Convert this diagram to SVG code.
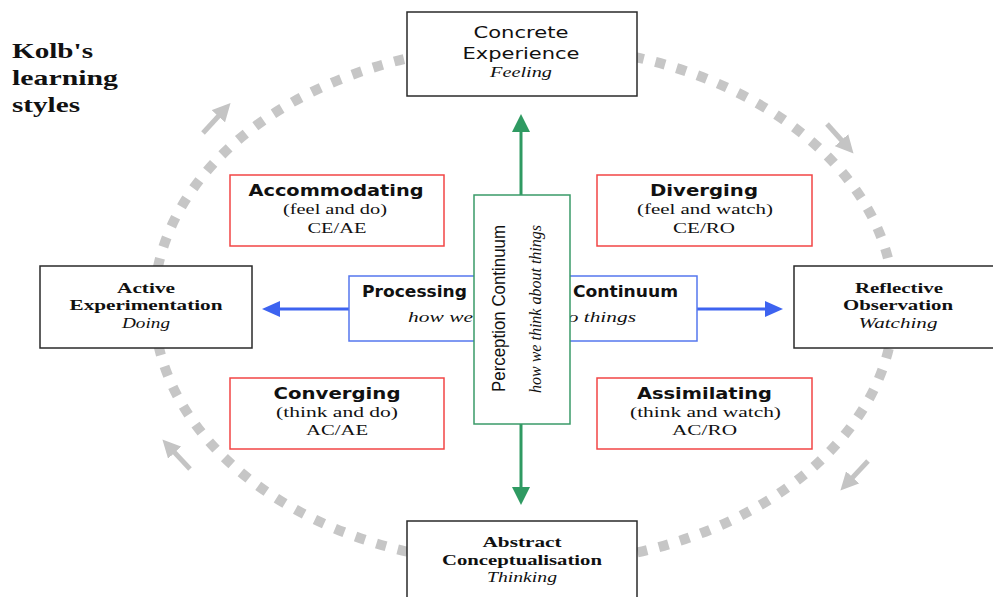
<svg xmlns="http://www.w3.org/2000/svg" width="993" height="597" viewBox="0 0 993 597">
<defs>
<marker id="gh" markerUnits="userSpaceOnUse" markerWidth="18" markerHeight="18" refX="10" refY="8" orient="auto" viewBox="0 0 16 16">
<path d="M0,0 L16,8 L0,16 z" fill="#c4c4c4"/>
</marker>
</defs>
<style>
.blk{fill:#fff;stroke:#2a2a2a;stroke-width:1.5}
.red{fill:#fff;stroke:#f24545;stroke-width:1.5}
.blu{fill:#fff;stroke:#5577ee;stroke-width:1.5}
.grn{fill:#fff;stroke:#3a9a68;stroke-width:1.5}
text{fill:#111}
.sans{font-family:"DejaVu Sans","Verdana",sans-serif;font-size:15px}
.sb{font-family:"DejaVu Sans","Verdana",sans-serif;font-size:16px;font-weight:bold}
.ser{font-family:"Liberation Serif","Times New Roman",serif;font-size:15px}
.sbold{font-family:"Liberation Serif","Times New Roman",serif;font-size:14px;font-weight:bold}
.ital{font-family:"Liberation Serif","Times New Roman",serif;font-size:15px;font-style:italic}
.c{text-anchor:middle}
.gl{fill:none;stroke:#c4c4c4;stroke-width:5}
</style>
<rect width="993" height="597" fill="#fff"/>

<g id="title">
<text x="12" y="58" font-family="Liberation Serif" font-size="22" font-weight="bold" textLength="81" lengthAdjust="spacingAndGlyphs">Kolb's</text>
<text x="12" y="85" font-family="Liberation Serif" font-size="22" font-weight="bold" textLength="106" lengthAdjust="spacingAndGlyphs">learning</text>
<text x="12" y="112" font-family="Liberation Serif" font-size="22" font-weight="bold" textLength="68" lengthAdjust="spacingAndGlyphs">styles</text>
</g>

<g id="connectors">
<ellipse cx="524" cy="305" rx="370" ry="260" fill="none" stroke="#c6c6c6" stroke-width="10" stroke-dasharray="10 12"/>
<line class="gl" x1="203" y1="133" x2="226" y2="108" marker-end="url(#gh)"/>
<line class="gl" x1="827" y1="124" x2="849" y2="148.5" marker-end="url(#gh)"/>
<line class="gl" x1="868" y1="461" x2="845" y2="485.6" marker-end="url(#gh)"/>
<line class="gl" x1="190" y1="469" x2="167" y2="444.4" marker-end="url(#gh)"/>
<line x1="521" y1="196" x2="521" y2="130" stroke="#2f9a62" stroke-width="3"/>
<polygon points="512,132 530,132 521,114" fill="#2f9a62"/>
<line x1="521" y1="423" x2="521" y2="489" stroke="#2f9a62" stroke-width="3"/>
<polygon points="512,487 530,487 521,505" fill="#2f9a62"/>
<line x1="350" y1="309" x2="278" y2="309" stroke="#3d63f0" stroke-width="3"/>
<polygon points="280,301 280,317 262,309" fill="#3d63f0"/>
<line x1="696" y1="309" x2="767" y2="309" stroke="#3d63f0" stroke-width="3"/>
<polygon points="765,301 765,317 783,309" fill="#3d63f0"/>
</g>

<g id="concrete-experience">
<rect class="blk" x="407" y="12" width="230" height="84"/>
<text class="sans c" x="521" y="38" textLength="95" lengthAdjust="spacingAndGlyphs">Concrete</text>
<text class="sans c" x="521" y="59" textLength="117" lengthAdjust="spacingAndGlyphs">Experience</text>
<text class="ital c" x="521" y="77" textLength="62" lengthAdjust="spacingAndGlyphs">Feeling</text>
</g>

<g id="active-experimentation">
<rect class="blk" x="40" y="266" width="212" height="82"/>
<text class="sbold c" x="146" y="293" textLength="58" lengthAdjust="spacingAndGlyphs">Active</text>
<text class="sbold c" x="146" y="310" textLength="153" lengthAdjust="spacingAndGlyphs">Experimentation</text>
<text class="ital c" x="146" y="328" textLength="48" lengthAdjust="spacingAndGlyphs">Doing</text>
</g>

<g id="reflective-observation">
<rect class="blk" x="794" y="266" width="212" height="82"/>
<text class="sbold c" x="899" y="293" textLength="88" lengthAdjust="spacingAndGlyphs">Reflective</text>
<text class="sbold c" x="898" y="310" textLength="110" lengthAdjust="spacingAndGlyphs">Observation</text>
<text class="ital c" x="898" y="328" textLength="79" lengthAdjust="spacingAndGlyphs">Watching</text>
</g>

<g id="abstract-conceptualisation">
<rect class="blk" x="407" y="521" width="230" height="84"/>
<text class="sbold c" x="522" y="547" textLength="79" lengthAdjust="spacingAndGlyphs">Abstract</text>
<text class="sbold c" x="522" y="565" textLength="160" lengthAdjust="spacingAndGlyphs">Conceptualisation</text>
<text class="ital c" x="522" y="582" textLength="70" lengthAdjust="spacingAndGlyphs">Thinking</text>
</g>

<g id="accommodating">
<rect class="red" x="230" y="175" width="214" height="71"/>
<text class="sb c" x="336" y="196" textLength="175" lengthAdjust="spacingAndGlyphs">Accommodating</text>
<text class="ser c" x="335" y="214" textLength="104" lengthAdjust="spacingAndGlyphs">(feel and do)</text>
<text class="ser c" x="337" y="233" textLength="59" lengthAdjust="spacingAndGlyphs">CE/AE</text>
</g>

<g id="diverging">
<rect class="red" x="597" y="175" width="215" height="71"/>
<text class="sb c" x="704" y="196" textLength="108" lengthAdjust="spacingAndGlyphs">Diverging</text>
<text class="ser c" x="705" y="214" textLength="136" lengthAdjust="spacingAndGlyphs">(feel and watch)</text>
<text class="ser c" x="704" y="233" textLength="62" lengthAdjust="spacingAndGlyphs">CE/RO</text>
</g>

<g id="converging">
<rect class="red" x="230" y="378" width="214" height="71"/>
<text class="sb c" x="337" y="399" textLength="127" lengthAdjust="spacingAndGlyphs">Converging</text>
<text class="ser c" x="337" y="417" textLength="122" lengthAdjust="spacingAndGlyphs">(think and do)</text>
<text class="ser c" x="337" y="435" textLength="62" lengthAdjust="spacingAndGlyphs">AC/AE</text>
</g>

<g id="assimilating">
<rect class="red" x="597" y="378" width="215" height="71"/>
<text class="sb c" x="704.5" y="399" textLength="135" lengthAdjust="spacingAndGlyphs">Assimilating</text>
<text class="ser c" x="705.5" y="417" textLength="151" lengthAdjust="spacingAndGlyphs">(think and watch)</text>
<text class="ser c" x="704.5" y="435" textLength="65" lengthAdjust="spacingAndGlyphs">AC/RO</text>
</g>

<g id="processing-continuum">
<rect class="blu" x="349" y="276" width="348" height="65"/>
<text class="sb" y="297" font-size="15"><tspan x="362" textLength="105" lengthAdjust="spacingAndGlyphs">Processing</tspan> <tspan x="573" textLength="105" lengthAdjust="spacingAndGlyphs">Continuum</tspan></text>
<text class="ital" y="322" font-size="17"><tspan x="408" textLength="65" lengthAdjust="spacingAndGlyphs">how we</tspan> <tspan x="557" textLength="79" lengthAdjust="spacingAndGlyphs">do things</tspan></text>
</g>

<g id="perception-continuum">
<rect class="grn" x="474" y="195" width="96" height="229"/>
<text transform="translate(505,308.5) rotate(-90)" text-anchor="middle" font-family="Liberation Sans Narrow, Liberation Sans, Arial, sans-serif" font-size="19" textLength="167" lengthAdjust="spacingAndGlyphs">Perception Continuum</text>
<text transform="translate(541,309) rotate(-90)" text-anchor="middle" font-family="Liberation Serif, Times New Roman, serif" font-style="italic" font-size="17" textLength="168" lengthAdjust="spacingAndGlyphs">how we think about things</text>
</g>
</svg>
